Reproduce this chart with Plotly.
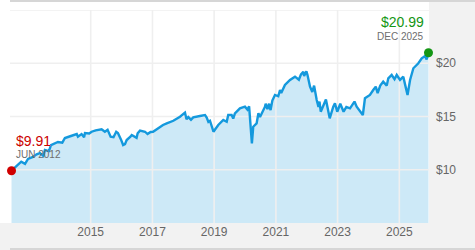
import plotly.graph_objects as go

# ---- data ----
dates = [
    "2012-06-08", "2012-07-20", "2012-09-01", "2012-10-01", "2012-11-15", "2012-12-20",
    "2013-02-17", "2013-04-01", "2013-05-10", "2013-06-20", "2013-07-08", "2013-08-25",
    "2013-09-18", "2013-10-20", "2013-12-09", "2014-01-30", "2014-03-02", "2014-05-12",
    "2014-07-20", "2014-08-03", "2014-09-15", "2014-10-15", "2014-10-25", "2014-12-15",
    "2015-01-12", "2015-03-01", "2015-05-10", "2015-06-18", "2015-07-20", "2015-08-25",
    "2015-09-28", "2015-10-30", "2015-11-19", "2015-12-25", "2016-01-20", "2016-02-11",
    "2016-03-02", "2016-04-15", "2016-05-01", "2016-06-27", "2016-07-10", "2016-08-07",
    "2016-10-05", "2016-11-04", "2016-12-10", "2017-01-08", "2017-03-08", "2017-05-06",
    "2017-06-19", "2017-09-05", "2017-11-23", "2018-01-21", "2018-02-08", "2018-03-01",
    "2018-04-02", "2018-04-29", "2018-07-17", "2018-09-15", "2018-10-05", "2018-10-25",
    "2018-11-13", "2018-12-24", "2019-02-19", "2019-04-19", "2019-05-30", "2019-06-17",
    "2019-07-27", "2019-08-15", "2019-09-04", "2019-11-02", "2020-01-01", "2020-01-30",
    "2020-02-19", "2020-03-23", "2020-04-08", "2020-05-18", "2020-06-08", "2020-06-27",
    "2020-08-25", "2020-09-02", "2020-09-23", "2020-10-12", "2020-10-30", "2020-11-20",
    "2020-12-21", "2021-01-29", "2021-02-19", "2021-03-05", "2021-04-18", "2021-06-17",
    "2021-08-15", "2021-09-30", "2021-10-25", "2021-11-22", "2021-12-01", "2021-12-28",
    "2022-01-10", "2022-02-09", "2022-03-08", "2022-03-29", "2022-04-29", "2022-05-20",
    "2022-06-01", "2022-06-16", "2022-08-16", "2022-09-30", "2022-11-11", "2022-12-01",
    "2022-12-28", "2023-02-02", "2023-03-13", "2023-04-15", "2023-05-28", "2023-07-20",
    "2023-08-15", "2023-10-27", "2023-11-21", "2024-01-19", "2024-02-27", "2024-03-28",
    "2024-04-19", "2024-05-20", "2024-06-24", "2024-08-05", "2024-08-23", "2024-10-02",
    "2024-11-05", "2024-12-01", "2025-01-09", "2025-02-17", "2025-03-13", "2025-04-08",
    "2025-05-08", "2025-06-16", "2025-08-14", "2025-09-23", "2025-11-01", "2025-11-20",
    "2025-12-12",
]
values = [
    9.91, 10.25, 10.55, 10.76, 10.55, 11.01,
    11.20, 11.45, 11.57, 11.30, 11.85, 11.75,
    12.32, 12.45, 12.61, 12.55, 12.98, 13.17,
    13.35, 13.10, 13.35, 13.05, 13.45, 13.40,
    13.57, 13.70, 13.80, 13.57, 13.75, 13.10,
    13.05, 13.57, 13.45, 12.85, 12.32, 12.40,
    12.79, 13.10, 13.26, 13.00, 13.42, 13.67,
    13.57, 13.35, 13.55, 13.57, 13.89, 14.20,
    14.36, 14.60, 14.98, 15.36, 14.75, 14.95,
    14.70, 14.92, 15.05, 15.14, 14.90, 14.50,
    14.60, 13.57, 14.20, 14.67, 14.50, 15.14,
    15.14, 14.80, 15.30, 15.77, 15.92, 15.65,
    15.95, 12.48, 14.04, 14.36, 15.30, 14.95,
    15.92, 16.20, 15.70, 16.20, 15.60, 16.50,
    17.02, 16.90, 17.49, 17.20, 17.96, 18.43,
    18.74, 18.45, 18.95, 19.21, 18.80, 19.25,
    18.90, 17.80, 17.30, 17.90, 16.55, 15.90,
    16.40, 15.45, 16.60, 14.83, 15.92, 16.24,
    15.45, 16.20, 15.45, 15.90, 15.77, 16.40,
    15.92, 15.14, 16.71, 17.02, 17.49, 17.80,
    17.20, 17.90, 18.27, 17.90, 18.59, 18.90,
    18.50, 18.90, 18.43, 18.74, 17.90, 17.02,
    18.43, 19.53, 20.00, 20.46, 20.68, 20.35,
    20.99,
]
x_tick_vals = ["2015-01-01", "2017-01-01", "2019-01-01", "2021-01-01", "2023-01-01", "2025-01-01"]
x_tick_text = ["2015", "2017", "2019", "2021", "2023", "2025"]
y_tick_vals = [10, 15, 20]
y_tick_text = ["$10", "$15", "$20"]
y_grid_vals = [10, 15, 20, 25]
start_label = ["$9.91", "JUN 2012"]
end_label = ["$20.99", "DEC 2025"]

x_range = ["2012-05-21", "2025-12-18"]
y_range = [5, 25]

fig = go.Figure()

# area fill
fig.add_trace(go.Scatter(x=dates, y=values, mode="lines", line=dict(width=0),
                         fill="tozeroy", fillcolor="#cde9f7", hoverinfo="skip",
                         showlegend=False))

# grid lines drawn above the fill
gx, gy = [], []
for v in x_tick_vals:
    gx += [v, v, None]
    gy += [y_range[0], y_range[1], None]
for v in y_grid_vals:
    gx += [x_range[0], x_range[1], None]
    gy += [v, v, None]
fig.add_trace(go.Scatter(x=gx, y=gy, mode="lines", line=dict(color="#efefef", width=1.6),
                         hoverinfo="skip", showlegend=False))

# price line
fig.add_trace(go.Scatter(x=dates, y=values, mode="lines",
                         line=dict(color="#1499dd", width=2.4), showlegend=False))

# start / end dots
fig.add_trace(go.Scatter(x=[dates[0]], y=[values[0]], mode="markers",
                         marker=dict(color="#d00000", size=9), cliponaxis=False,
                         showlegend=False))
fig.add_trace(go.Scatter(x=[dates[-1]], y=[values[-1]], mode="markers",
                         marker=dict(color="#149614", size=9), cliponaxis=False,
                         showlegend=False))

FONT = "Liberation Sans, Arial, sans-serif"

# annotations (paper coords)
def px_x(px):
    return (px - 10) / 419.0

def px_y(py):
    return (223 - py) / 213.0

fig.add_annotation(x=px_x(14), y=px_y(141), xref="paper", yref="paper", text=start_label[0],
                   showarrow=False, xanchor="left", yanchor="middle",
                   font=dict(family=FONT, size=14, color="#cc0000"))
fig.add_annotation(x=px_x(14), y=px_y(154.5), xref="paper", yref="paper", text=start_label[1],
                   showarrow=False, xanchor="left", yanchor="middle",
                   font=dict(family=FONT, size=10, color="#6e6e6e"))
fig.add_annotation(x=px_x(426), y=px_y(22.5), xref="paper", yref="paper", text=end_label[0],
                   showarrow=False, xanchor="right", yanchor="middle",
                   font=dict(family=FONT, size=14, color="#149614"))
fig.add_annotation(x=px_x(426), y=px_y(36.5), xref="paper", yref="paper", text=end_label[1],
                   showarrow=False, xanchor="right", yanchor="middle",
                   font=dict(family=FONT, size=10, color="#6e6e6e"))

# background strips / borders
band = "#d6d6d6"
fig.add_shape(type="rect", xref="paper", yref="paper", x0=px_x(0), x1=px_x(429),
              y0=px_y(10), y1=px_y(0), fillcolor="white", line_width=0, layer="below")
fig.add_shape(type="rect", xref="paper", yref="paper", x0=px_x(0), x1=px_x(10),
              y0=px_y(223), y1=px_y(0), fillcolor="white", line_width=0, layer="below")
fig.add_shape(type="rect", xref="paper", yref="paper", x0=px_x(10), x1=px_x(475),
              y0=px_y(2), y1=px_y(0), fillcolor=band, line_width=0, layer="below")
fig.add_shape(type="rect", xref="paper", yref="paper", x0=px_x(10), x1=px_x(475),
              y0=px_y(250), y1=px_y(248), fillcolor=band, line_width=0, layer="below")

fig.update_layout(
    width=475, height=250,
    margin=dict(l=10, r=46, t=10, b=27),
    paper_bgcolor="#f2f2f2", plot_bgcolor="white",
    showlegend=False,
    font=dict(family=FONT, size=12, color="#666666"),
)
fig.update_xaxes(range=x_range, type="date", tickvals=x_tick_vals, ticktext=x_tick_text,
                 showgrid=False, zeroline=False, showline=False, ticks="",
                 tickfont=dict(size=12, color="#666666"), fixedrange=True)
fig.update_yaxes(range=y_range, side="right", tickvals=y_tick_vals, ticktext=y_tick_text,
                 showgrid=False, zeroline=False, showline=False, ticks="",
                 ticklabelstandoff=6,
                 tickfont=dict(size=12, color="#666666"), fixedrange=True)

fig.write_html("out.html", config={"displayModeBar": False})
